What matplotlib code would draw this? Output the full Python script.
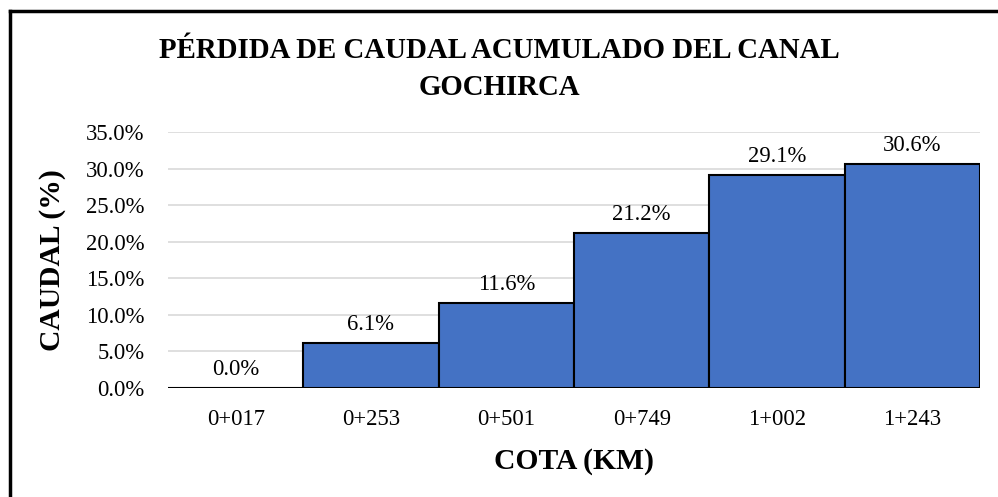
import matplotlib
matplotlib.use("Agg")
import matplotlib.pyplot as plt
from matplotlib.lines import Line2D
import matplotlib.ticker as mticker

cotas = ["0+017", "0+253", "0+501", "0+749", "1+002", "1+243"]
perdida = [0.0, 6.1, 11.6, 21.2, 29.1, 30.6]
yticks = [0, 5, 10, 15, 20, 25, 30, 35]

plt.rcParams['font.family'] = ['Liberation Serif', 'DejaVu Serif']

fig = plt.figure(figsize=(9.98, 4.97), dpi=100)
ax = fig.add_axes([168/998, 1 - 388/497, (980-168)/998, (388-132)/497])

x = range(len(cotas))
ax.bar(x, perdida, width=1.0, color='#4472C4', edgecolor='black', linewidth=1.5, zorder=3)

for i, v in enumerate(perdida):
    ax.text(i, v + 1.1, "%.1f%%" % v, ha='center', va='bottom', fontsize=16.3)

ax.set_xlim(-0.5, len(cotas) - 0.5)
ax.set_ylim(0, 35)
ax.set_yticks(yticks)
ax.yaxis.set_major_formatter(mticker.FuncFormatter(lambda v, p: "%.1f%%" % v))
ax.set_xticks(list(x))
ax.set_xticklabels(cotas)
ax.tick_params(axis='both', length=0, labelsize=16.3)
ax.tick_params(axis='x', pad=15)
ax.tick_params(axis='y', pad=17)
ax.grid(axis='y', color='#D9D9D9', linewidth=1.2, zorder=0)
for s in ax.spines.values():
    s.set_visible(False)

ax.set_xlabel("COTA (KM)", fontsize=21.3, fontweight='bold', labelpad=13)
ax.set_ylabel("CAUDAL (%)", fontsize=21.3, fontweight='bold', labelpad=14)

fig.text(0.5, 1 - 69/497, "PÉRDIDA DE CAUDAL ACUMULADO DEL CANAL\nGOCHIRCA",
         ha='center', va='center', fontsize=20.8, fontweight='bold', linespacing=1.5)

# border on the chart area (only left and top visible in the crop)
fig.add_artist(Line2D([10/998, 10/998], [0, 1 - 11/497], color='black', linewidth=2.5,
                      transform=fig.transFigure))
fig.add_artist(Line2D([10/998, 1], [1 - 11/497, 1 - 11/497], color='black', linewidth=2.5,
                      transform=fig.transFigure))

fig.savefig("out.png", dpi=100)
